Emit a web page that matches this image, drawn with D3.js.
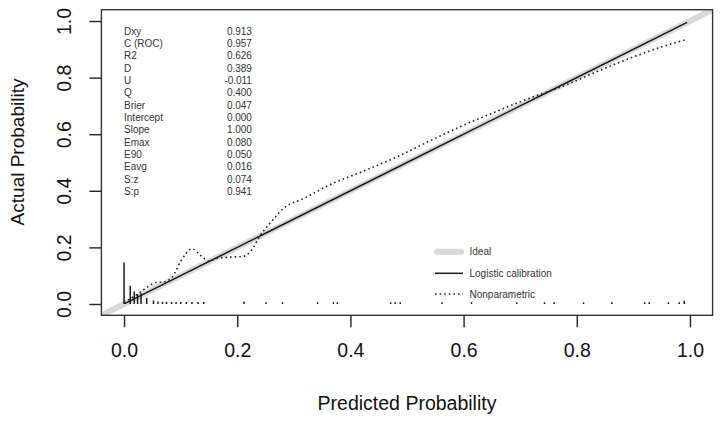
<!DOCTYPE html>
<html>
<head>
<meta charset="utf-8">
<script src="https://cdn.jsdelivr.net/npm/d3@7"></script>
<style>
  body { margin: 0; background: #fff; }
  svg { font-family: "Liberation Sans", Arial, sans-serif; }
</style>
</head>
<body>
<div id="container"></div>
<script>
const width = 720,
  height = 421

/* DATA */
const statNames = ["Dxy", "C (ROC)", "R2", "D", "U", "Q", "Brier", "Intercept", "Slope", "Emax", "E90", "Eavg", "S:z", "S:p"]
const statValues = ["0.913", "0.957", "0.626", "0.389", "-0.011", "0.400", "0.047", "0.000", "1.000", "0.080", "0.050", "0.016", "0.074", "0.941"]

const tickValues = [0, 0.2, 0.4, 0.6, 0.8, 1.0]

// logistic calibration curve (intercept 0, slope 1)
const logX = [0.001, 0.25, 0.5, 0.75, 0.995]
const logY = [0.001, 0.25, 0.5, 0.75, 0.995]

// nonparametric (lowess) curve
const npX = [0.0, 0.02, 0.04, 0.055, 0.07, 0.085, 0.1, 0.12, 0.135, 0.15, 0.165, 0.19, 0.21, 0.225, 0.24, 0.26, 0.28, 0.32, 0.36, 0.42, 0.48, 0.54, 0.6, 0.66, 0.72, 0.78, 0.84, 0.9, 0.96, 0.995]
const npY = [0.005, 0.03, 0.058, 0.075, 0.078, 0.095, 0.15, 0.195, 0.172, 0.152, 0.162, 0.166, 0.168, 0.19, 0.24, 0.29, 0.335, 0.375, 0.418, 0.467, 0.518, 0.576, 0.632, 0.682, 0.73, 0.773, 0.825, 0.873, 0.915, 0.935]

// spike histogram of predicted probabilities
const spikeX = [0.000, 0.011, 0.018, 0.024, 0.030, 0.040, 0.052, 0.060, 0.068, 0.075, 0.084, 0.092, 0.100, 0.110, 0.120, 0.131, 0.141,
  0.212, 0.251, 0.280, 0.342, 0.370, 0.377, 0.471, 0.479, 0.488, 0.562, 0.614, 0.694, 0.743, 0.760, 0.812, 0.862, 0.920, 0.928, 0.962, 0.981, 0.990]
const spikeH = [0.147, 0.064, 0.044, 0.034, 0.038, 0.022, 0.012, 0.009, 0.008, 0.008, 0.007, 0.007, 0.007, 0.007, 0.007, 0.007, 0.007,
  0.009, 0.006, 0.006, 0.006, 0.006, 0.006, 0.006, 0.006, 0.006, 0.006, 0.006, 0.006, 0.006, 0.006, 0.006, 0.006, 0.006, 0.006, 0.006, 0.006, 0.011]

const legendLabels = ["Ideal", "Logistic calibration", "Nonparametric"]

/* SCALES */
const xScale = d3.scaleLinear()
  .domain([-0.04, 1.04])
  .range([101.4, 712.6])

const yScale = d3.scaleLinear()
  .domain([-0.04, 1.04])
  .range([315.3, 9.7])

const svg = d3.select("#container").append("svg")
  .attr("width", width)
  .attr("height", height)

svg.append("clipPath")
  .attr("id", "plotClip")
  .append("rect")
  .attr("x", xScale(-0.04))
  .attr("y", yScale(1.04))
  .attr("width", xScale(1.04) - xScale(-0.04))
  .attr("height", yScale(-0.04) - yScale(1.04))

const plot = svg.append("g").attr("clip-path", "url(#plotClip)")

// ideal line
plot.append("line")
  .attr("x1", xScale(-0.04)).attr("y1", yScale(-0.04))
  .attr("x2", xScale(1.04)).attr("y2", yScale(1.04))
  .attr("stroke", "#d9d9d9")
  .attr("stroke-width", 6)

// logistic calibration
const line = d3.line()
  .x(d => xScale(d[0]))
  .y(d => yScale(d[1]))

plot.append("path")
  .datum(logX.map((x, i) => [x, logY[i]]))
  .attr("d", line)
  .attr("fill", "none")
  .attr("stroke", "#1a1a1a")
  .attr("stroke-width", 1.5)

// nonparametric
plot.append("path")
  .datum(npX.map((x, i) => [x, npY[i]]))
  .attr("d", line.curve(d3.curveMonotoneX))
  .attr("fill", "none")
  .attr("stroke", "#222")
  .attr("stroke-width", 1.6)
  .attr("stroke-dasharray", "1.6,3")

// spikes
plot.selectAll("line.spike")
  .data(spikeX)
  .join("line")
  .attr("class", "spike")
  .attr("x1", d => xScale(d))
  .attr("x2", d => xScale(d))
  .attr("y1", yScale(0))
  .attr("y2", (d, i) => yScale(spikeH[i]))
  .attr("stroke", "#1a1a1a")
  .attr("stroke-width", 1.5)

// box
svg.append("rect")
  .attr("x", xScale(-0.04))
  .attr("y", yScale(1.04))
  .attr("width", xScale(1.04) - xScale(-0.04))
  .attr("height", yScale(-0.04) - yScale(1.04))
  .attr("fill", "none")
  .attr("stroke", "#333")
  .attr("stroke-width", 1.4)

/* AXES */
const xAxis = d3.axisBottom(xScale)
  .tickValues(tickValues)
  .tickFormat(d3.format(".1f"))
  .tickSize(12)
  .tickPadding(16)

const yAxis = d3.axisLeft(yScale)
  .tickValues(tickValues)
  .tickFormat(d3.format(".1f"))
  .tickSize(12)

const gx = svg.append("g")
  .attr("class", "x-axis")
  .attr("transform", `translate(0, ${yScale(-0.04)})`)
  .call(xAxis)

gx.select(".domain").remove()
gx.selectAll("line").attr("stroke", "#222").attr("stroke-width", 1.4)
gx.selectAll("text")
  .attr("font-size", "19.5px")
  .attr("fill", "#111")
  .attr("font-family", null)

const gy = svg.append("g")
  .attr("class", "y-axis")
  .attr("transform", `translate(${xScale(-0.04)}, 0)`)
  .call(yAxis)

gy.select(".domain").remove()
gy.selectAll("line").attr("stroke", "#222").attr("stroke-width", 1.4)
gy.selectAll("text")
  .attr("font-size", "19.5px")
  .attr("fill", "#111")
  .attr("font-family", null)
  .attr("x", null)
  .attr("dy", null)
  .attr("text-anchor", "middle")
  .attr("transform", "translate(-30.5, 0) rotate(-90)")

svg.append("text")
  .attr("class", "xAxisLabel")
  .attr("x", (xScale(-0.04) + xScale(1.04)) / 2)
  .attr("y", 410)
  .attr("text-anchor", "middle")
  .attr("font-size", "19.5px")
  .attr("fill", "#111")
  .text("Predicted Probability")

svg.append("text")
  .attr("class", "yAxisLabel")
  .attr("transform", "translate(24, 152) rotate(-90)")
  .attr("text-anchor", "middle")
  .attr("font-size", "19px")
  .attr("fill", "#111")
  .text("Actual Probability")

/* STATS */
const statY = d3.scaleLinear()
  .domain([0, statNames.length - 1])
  .range([31, 191.7])

svg.selectAll("text.statName")
  .data(statNames)
  .join("text")
  .attr("class", "statName")
  .attr("x", xScale(0))
  .attr("y", (d, i) => statY(i))
  .attr("dy", "0.35em")
  .attr("font-size", "10px")
  .attr("fill", "#333")
  .text(d => d)

svg.selectAll("text.statValue")
  .data(statValues)
  .join("text")
  .attr("class", "statValue")
  .attr("x", xScale(0.226))
  .attr("y", (d, i) => statY(i))
  .attr("dy", "0.35em")
  .attr("text-anchor", "end")
  .attr("font-size", "10px")
  .attr("fill", "#333")
  .text(d => d)

/* LEGEND */
const legendY = [251.7, 273.3, 294]
const legend = svg.append("g").attr("class", "legend")

legend.append("line")
  .attr("x1", 437).attr("x2", 461)
  .attr("y1", legendY[0]).attr("y2", legendY[0])
  .attr("stroke", "#d9d9d9").attr("stroke-width", 6)
  .attr("stroke-linecap", "round")

legend.append("line")
  .attr("x1", 435).attr("x2", 463)
  .attr("y1", legendY[1]).attr("y2", legendY[1])
  .attr("stroke", "#1a1a1a").attr("stroke-width", 1.5)

legend.append("line")
  .attr("x1", 435).attr("x2", 463)
  .attr("y1", legendY[2]).attr("y2", legendY[2])
  .attr("stroke", "#222").attr("stroke-width", 1.6)
  .attr("stroke-dasharray", "1.6,3")

legend.selectAll("text")
  .data(legendLabels)
  .join("text")
  .attr("x", 469.5)
  .attr("y", (d, i) => legendY[i])
  .attr("dy", "0.35em")
  .attr("font-size", "10px")
  .attr("fill", "#333")
  .text(d => d)
</script>
</body>
</html>
